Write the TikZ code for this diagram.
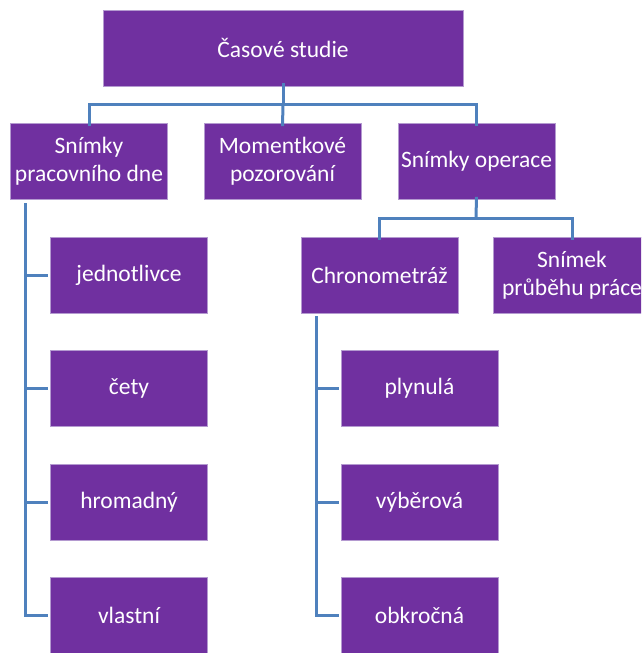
\documentclass[tikz,border=0pt]{standalone}
\usepackage{fontspec}
\setmainfont{Carlito}
\definecolor{boxpurple}{HTML}{7030A0}
\definecolor{boxedge}{HTML}{B49AD0}
\definecolor{linkblue}{HTML}{4F81BD}
\begin{document}
\begin{tikzpicture}[x=1pt,y=-1pt,
  box/.style={rectangle, fill=boxpurple, draw=boxedge, line width=0.8pt,
    minimum width=157pt, minimum height=76pt, inner sep=2pt,
    text=white, align=center, font=\fontsize{23.5}{28}\selectfont},
  link/.style={draw=linkblue, line width=3pt}]
\useasboundingbox (0,0) rectangle (641,653);
\begin{scope}
\clip (0,0) rectangle (641,653);
% nodes
\node[box, minimum width=360pt] (top) at (283,48) {Časové studie};
\node[box] (spd) at (89,161.5) {Snímky\\pracovního dne};
\node[box] (mom) at (282.5,161.5) {Momentkové\\pozorování};
\node[box] (sop) at (476.5,161.5) {Snímky operace};
\node[box] (jed) at (129,275) {jednotlivce};
\node[box] (cet) at (129,388.5) {čety};
\node[box] (hro) at (129,502) {hromadný};
\node[box] (vla) at (129,615) {vlastní};
\node[box] (chr) at (379.5,275) {Chronometráž};
\node[box] (spp) at (572,275) {Snímek\\průběhu práce};
\node[box] (ply) at (419.5,388.5) {plynulá};
\node[box] (vyb) at (419.5,502) {výběrová};
\node[box] (obk) at (419.5,615) {obkročná};
% bus coordinates
\coordinate (bus1) at (283,104.5);
\coordinate (bus2) at (476,218);
\coordinate (leftbar) at (25,203);
\coordinate (chrbar) at (316,316);
% connectors
\draw[link] ([yshift=3pt]top.south) -- (bus1);
\draw[link] ([yshift=-3pt]spd.north) |- (bus1) -| ([yshift=-3pt]sop.north);
\draw[link] (bus1) -- ([yshift=-3pt]mom.north);
\draw[link] ([yshift=3pt]sop.south) -- (bus2);
\draw[link] ([yshift=-3pt]chr.north) |- (bus2) -| ([yshift=-3pt]spp.north);
\draw[link] (leftbar) |- ([xshift=-2pt]vla.west);
\draw[link] (leftbar |- jed.west) -- ([xshift=-2pt]jed.west);
\draw[link] (leftbar |- cet.west) -- ([xshift=-2pt]cet.west);
\draw[link] (leftbar |- hro.west) -- ([xshift=-2pt]hro.west);
\draw[link] (chrbar) |- ([xshift=-2pt]obk.west);
\draw[link] (chrbar |- ply.west) -- ([xshift=-2pt]ply.west);
\draw[link] (chrbar |- vyb.west) -- ([xshift=-2pt]vyb.west);
\end{scope}
\end{tikzpicture}
\end{document}
